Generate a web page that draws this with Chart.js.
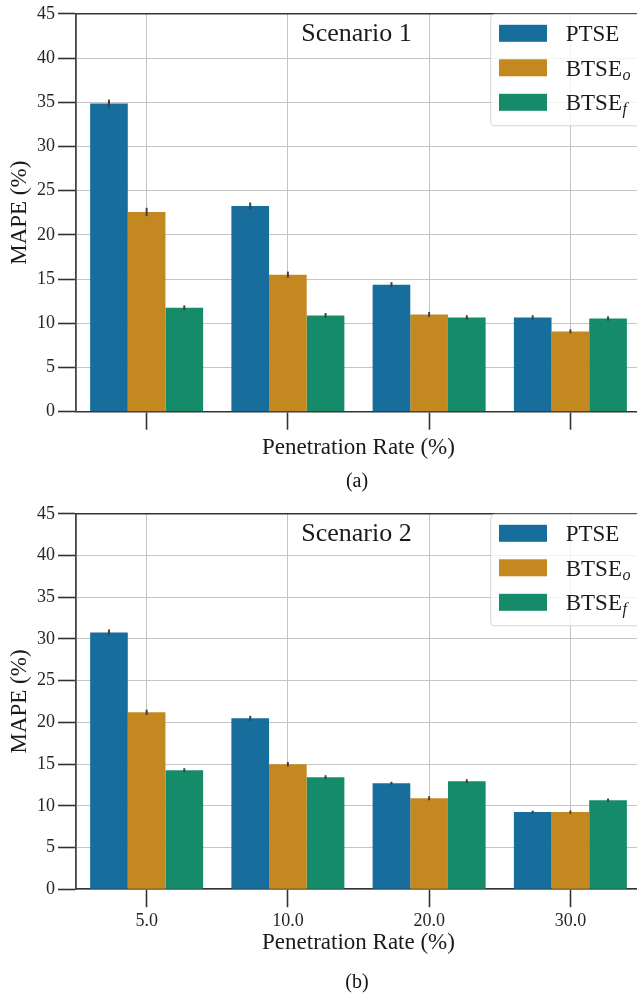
<!DOCTYPE html>
<html>
<head>
<meta charset="utf-8">
<script src="https://cdn.jsdelivr.net/npm/chart.js@4.4.1/dist/chart.umd.min.js"></script>
<style>
  html, body { margin: 0; padding: 0; background: #fff; overflow: hidden; width: 637px; height: 994px; }
  .panel { position: absolute; left: 0; }
  .panel canvas { display: block; }
  .caption {
    position: absolute; font-family: "Liberation Serif", serif; font-size: 20px; color: #111;
    transform: translate(-50%, -50%); white-space: nowrap;
  }
</style>
</head>
<body>
<div class="panel" style="top:0"><canvas id="c1" width="641" height="500"></canvas></div>
<div class="panel" style="top:500px"><canvas id="c2" width="641" height="494"></canvas></div>
<div class="caption" style="left:357px;top:480px">(a)</div>
<div class="caption" style="left:357px;top:981px">(b)</div>
<script>
// Penetration rates (x categories) and y-axis range
const penetrationRates = ['5.0', '10.0', '20.0', '30.0'];
const yMin = 0;
const yMax = 45;
const yStep = 5;

// Estimator names: base text and subscript
const methodBase = ['PTSE', 'BTSE', 'BTSE'];
const methodSub = ['', 'o', 'f'];

// Scenario 1 MAPE (%) and error half-widths
const s1PTSE  = [34.85, 23.26, 14.37, 10.66];
const s1BTSEo = [22.59, 15.50, 11.00, 9.08];
const s1BTSEf = [11.75, 10.88, 10.66, 10.54];
const s1PTSEErr  = [0.45, 0.40, 0.28, 0.25];
const s1BTSEoErr = [0.47, 0.34, 0.28, 0.23];
const s1BTSEfErr = [0.28, 0.28, 0.25, 0.25];

// Scenario 2 MAPE (%) and error half-widths
const s2PTSE  = [30.77, 20.48, 12.70, 9.24];
const s2BTSEo = [21.20, 14.98, 10.90, 9.24];
const s2BTSEf = [14.26, 13.42, 12.94, 10.67];
const s2PTSEErr  = [0.36, 0.30, 0.18, 0.18];
const s2BTSEoErr = [0.32, 0.26, 0.24, 0.20];
const s2BTSEfErr = [0.24, 0.24, 0.24, 0.20];

const colors = ['#176d9c', '#c38820', '#168b6a'];
const FONT = '"Liberation Serif", "Times New Roman", serif';
const gridColor = '#c4c4c4';
const spineColor = '#333333';

// Error bars, top spine, scenario label and legend with subscripts
const decor = {
  id: 'decor',
  afterDatasetsDraw(chart, args, opts) {
    const ctx = chart.ctx;
    const area = chart.chartArea;
    const yScale = chart.scales.y;
    ctx.save();
    // error bars
    ctx.strokeStyle = '#404040';
    ctx.lineWidth = 2;
    chart.data.datasets.forEach((ds, di) => {
      const meta = chart.getDatasetMeta(di);
      meta.data.forEach((bar, i) => {
        const v = ds.data[i], e = ds.errors[i];
        ctx.beginPath();
        ctx.moveTo(bar.x, yScale.getPixelForValue(v - e));
        ctx.lineTo(bar.x, yScale.getPixelForValue(v + e));
        ctx.stroke();
      });
    });
    // top spine
    ctx.strokeStyle = spineColor;
    ctx.lineWidth = 1.6;
    ctx.beginPath();
    ctx.moveTo(area.left, area.top);
    ctx.lineTo(area.right, area.top);
    ctx.stroke();
    // scenario label
    ctx.fillStyle = '#1a1a1a';
    ctx.font = '26px ' + FONT;
    ctx.textAlign = 'center';
    ctx.textBaseline = 'alphabetic';
    ctx.fillText(opts.text, (area.left + area.right) / 2 - 2, area.top + 27);
    // legend frame
    const lx = area.right - 150.3, ly = area.top + 0.5, lw = 160, lh = 111.5, r = 4;
    ctx.beginPath();
    ctx.moveTo(lx + r, ly);
    ctx.lineTo(lx + lw, ly);
    ctx.lineTo(lx + lw, ly + lh);
    ctx.lineTo(lx + r, ly + lh);
    ctx.arcTo(lx, ly + lh, lx, ly + lh - r, r);
    ctx.lineTo(lx, ly + r);
    ctx.arcTo(lx, ly, lx + r, ly, r);
    ctx.closePath();
    ctx.fillStyle = 'rgba(255,255,255,0.8)';
    ctx.fill();
    ctx.strokeStyle = '#d6d6d6';
    ctx.lineWidth = 1;
    ctx.stroke();
    // legend entries
    chart.data.datasets.forEach((ds, di) => {
      const cy = ly + 19 + di * 34.5;
      ctx.fillStyle = ds.backgroundColor;
      ctx.fillRect(lx + 8.3, cy - 8.5, 48, 17);
      ctx.fillStyle = '#1a1a1a';
      ctx.textAlign = 'left';
      ctx.font = '23px ' + FONT;
      const tx = lx + 75;
      ctx.fillText(methodBase[di], tx, cy + 8);
      if (methodSub[di]) {
        const w = ctx.measureText(methodBase[di]).width;
        ctx.font = 'italic 16px ' + FONT;
        ctx.fillText(methodSub[di], tx + w + 0.5, cy + 12);
      }
    });
    ctx.restore();
  }
};

function buildChart(id, label, series, errs, showXLabels, padTop, xHeight, xTitlePad) {
  return new Chart(document.getElementById(id), {
    type: 'bar',
    data: {
      labels: penetrationRates,
      datasets: series.map((vals, i) => ({
        label: methodBase[i] + methodSub[i],
        data: vals,
        errors: errs[i],
        backgroundColor: colors[i],
        borderWidth: 0,
        categoryPercentage: 0.8,
        barPercentage: 1.0
      }))
    },
    options: {
      responsive: false,
      animation: false,
      devicePixelRatio: 1,
      layout: { padding: { top: padTop, left: 0, right: 0, bottom: 0 } },
      plugins: {
        legend: { display: false },
        tooltip: { enabled: false },
        decor: { text: label }
      },
      scales: {
        x: {
          grid: { offset: false, color: gridColor, lineWidth: 1, tickColor: spineColor, tickWidth: 1.6, tickLength: 18 },
          border: { color: spineColor, width: 1.6 },
          ticks: { display: showXLabels, font: { family: FONT, size: 18 }, color: '#262626', padding: 3, maxRotation: 0 },
          title: { display: true, text: 'Penetration Rate (%)', font: { family: FONT, size: 23 }, color: '#1a1a1a', padding: { top: 0, bottom: xTitlePad } },
          afterFit: (s) => { s.height = xHeight; }
        },
        y: {
          min: yMin, max: yMax,
          ticks: { stepSize: yStep, font: { family: FONT, size: 18 }, color: '#262626', padding: 3 },
          grid: { color: gridColor, lineWidth: 1, tickColor: spineColor, tickWidth: 1.6, tickLength: 18 },
          border: { color: '#444444', width: 1.8 },
          title: { display: true, text: 'MAPE (%)', font: { family: FONT, size: 23 }, color: '#1a1a1a', padding: { top: 6, bottom: 0 } },
          afterFit: (s) => { s.width = 76; }
        }
      }
    },
    plugins: [decor]
  });
}

buildChart('c1', 'Scenario 1',
  [s1PTSE, s1BTSEo, s1BTSEf], [s1PTSEErr, s1BTSEoErr, s1BTSEfErr],
  false, 12, 88.3, 38.2);
buildChart('c2', 'Scenario 2',
  [s2PTSE, s2BTSEo, s2BTSEf], [s2PTSEErr, s2BTSEoErr, s2BTSEfErr],
  true, 13, 104.8, 37.2);
</script>
</body>
</html>
